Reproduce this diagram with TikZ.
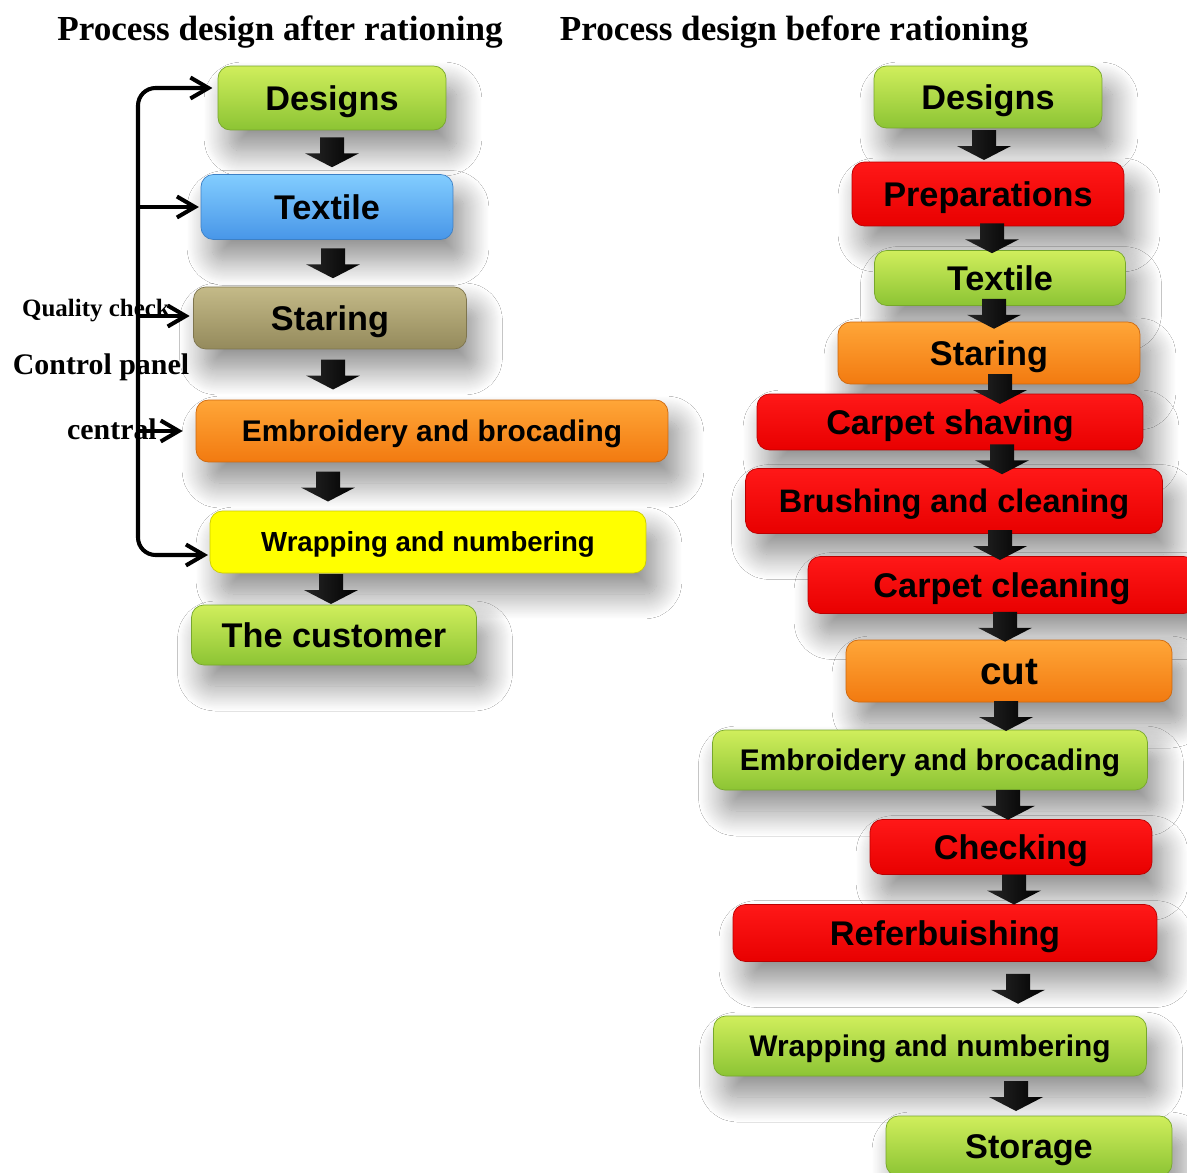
\documentclass[tikz,border=0pt]{standalone}
\usepackage{fontspec}
\setmainfont{Liberation Serif}
\newfontfamily\boxfont{Liberation Sans}
\usetikzlibrary{arrows.meta,calc,shadows.blur}
\definecolor{grntop}{RGB}{208,238,92}
\definecolor{grnbot}{RGB}{140,196,52}
\definecolor{blutop}{RGB}{130,205,255}
\definecolor{blubot}{RGB}{72,150,232}
\definecolor{khktop}{RGB}{196,186,136}
\definecolor{khkbot}{RGB}{148,138,92}
\definecolor{orgtop}{RGB}{255,166,56}
\definecolor{orgbot}{RGB}{242,122,16}
\definecolor{yel}{RGB}{255,255,0}
\definecolor{redtop}{RGB}{255,24,24}
\definecolor{redbot}{RGB}{232,0,0}
\tikzset{
  stage/.style={rounded corners=7pt, minimum height=1.24cm, inner sep=0pt,
                text height=14pt, text depth=0pt,
                font=\boxfont\bfseries\fontsize{19.5}{22}\selectfont, text=black,
                blur shadow={shadow xshift=0.22cm, shadow yshift=-0.42cm,
                             shadow blur radius=0.5cm, shadow blur steps=24,
                             shadow opacity=45}},
  grnbox/.style={stage, top color=grntop, bottom color=grnbot, draw=grnbot!85!black},
  blubox/.style={stage, top color=blutop, bottom color=blubot, draw=blubot!85!black},
  khkbox/.style={stage, top color=khktop, bottom color=khkbot, draw=khkbot!85!black},
  orgbox/.style={stage, top color=orgtop, bottom color=orgbot, draw=orgbot!85!black},
  yelbox/.style={stage, fill=yel, draw=yel!80!black},
  redbox/.style={stage, top color=redtop, bottom color=redbot, draw=redbot!80!black},
  longtxt/.style={font=\boxfont\bfseries\fontsize{17}{20}\selectfont, text height=12.2pt},
  darr/.style={left color=black!85, middle color=gray!75, right color=black},
  ctl/.style={line width=2.3pt, -{Straight Barb[length=3.6mm,width=4.2mm]}},
  lbl/.style={font=\bfseries\fontsize{17}{20}\selectfont},
  ttl/.style={font=\bfseries\fontsize{20}{24}\selectfont},
}
% block arrow in the gap between two boxes
\newcommand{\flow}[4]{% name, x, upper box, lower box
  \coordinate (x#1) at (#2,0);
  \coordinate (m#1) at ($(#3.south)!.5!(#4.north)$);
  \coordinate (#1) at (m#1 -| x#1);
  \shade[darr, shift={(#1)}, x=1cm, y=1cm]
    (-0.24,0.3) -- (0.24,0.3) -- (0.24,-0.02) -- (0.54,-0.02) -- (0,-0.3)
    -- (-0.54,-0.02) -- (-0.24,-0.02) -- cycle;
}

\begin{document}
\begin{tikzpicture}[x=0.02cm, y=-0.02cm]
  \clip (0,0) rectangle (1187,1173);
  \fill[white] (0,0) rectangle (1187,1173);

  % titles
  \node[ttl] (t1) at (280,32) {Process design after rationing};
  \node[ttl] (t2) at (794,32) {Process design before rationing};

  % after rationing
  \node[grnbox, minimum width=4.56cm, minimum height=1.28cm] (dL) at (332,98) {Designs};
  \node[blubox, minimum width=5.04cm, minimum height=1.3cm] (tL) at (327,207) {Textile};
  \node[khkbox, minimum width=5.46cm] (sL) at (330,318) {Staring};
  \node[orgbox, longtxt, minimum width=9.44cm] (eL) at (432,431) {Embroidery and brocading};
  \node[yelbox, font=\boxfont\bfseries\fontsize{15.7}{19}\selectfont, text height=11.2pt,
        minimum width=8.72cm] (wL) at (428,542) {Wrapping and numbering};
  \node[grnbox, minimum width=5.7cm, minimum height=1.2cm] (cL) at (334,635) {The customer};

  \flow{a1}{332}{dL}{tL}
  \flow{a2}{333}{tL}{sL}
  \flow{a3}{333}{sL}{eL}
  \flow{a4}{328}{eL}{wL}
  \flow{a5}{331}{wL}{cL}

  % control panel
  \node[lbl, font=\bfseries\fontsize{14.2}{17}\selectfont] (qc) at (96,311) {Quality check};
  \node[lbl] (cp) at (101,367) {Control panel};
  \node[lbl] (ce) at (112,429) {central};
  \coordinate (bar) at (138,0);
  \coordinate (top) at ([yshift=0.2cm]dL.west);
  \coordinate (bot) at ([yshift=-0.26cm]wL.west);
  \draw[ctl, {Straight Barb[length=3.6mm,width=4.2mm]}-{Straight Barb[length=3.6mm,width=4.2mm]},
        rounded corners=0.35cm, shorten <=3pt, shorten >=1pt]
    (top) -- (top -| bar) -- (bot -| bar) -- (bot);
  \draw[ctl, shorten >=1pt] (tL.west -| bar) -- (tL.west);
  \draw[ctl, shorten >=2pt] ([yshift=0.04cm]sL.west -| bar) -- ([yshift=0.04cm]sL.west);
  \draw[ctl, shorten >=0.26cm] (eL.west -| bar) -- (eL.west);

  % before rationing
  \node[grnbox, minimum width=4.56cm] (dR) at (988,97) {Designs};
  \node[redbox, minimum width=5.44cm, minimum height=1.28cm] (pR) at (988,194) {Preparations};
  \node[grnbox, minimum width=5.02cm, minimum height=1.1cm] (tR) at (1000,278) {Textile};
  \node[orgbox, minimum width=6.04cm] (sR) at (989,353) {Staring};
  \node[redbox, minimum width=7.72cm, minimum height=1.12cm] (csR) at (950,422) {Carpet shaving};
  \node[redbox, font=\boxfont\bfseries\fontsize{18.5}{21}\selectfont, text height=13.2pt,
        minimum width=8.34cm, minimum height=1.3cm] (bcR) at (954,501) {Brushing and cleaning};
  \node[redbox, minimum width=7.76cm, minimum height=1.14cm] (clR) at (1002,585) {Carpet cleaning};
  \node[orgbox, font=\boxfont\bfseries\fontsize{22}{24}\selectfont, text height=15.8pt,
        minimum width=6.52cm] (cuR) at (1009,671) {cut};
  \node[grnbox, longtxt, minimum width=8.7cm, minimum height=1.2cm] (ebR) at (930,760) {Embroidery and brocading};
  \node[redbox, minimum width=5.64cm, minimum height=1.1cm] (ckR) at (1011,847) {Checking};
  \node[redbox, minimum width=8.48cm, minimum height=1.14cm] (rfR) at (945,933) {Referbuishing};
  \node[grnbox, longtxt, minimum width=8.66cm, minimum height=1.2cm] (wrR) at (930,1046) {Wrapping and numbering};
  \node[grnbox, minimum width=5.72cm, minimum height=1.2cm] (stR) at (1029,1146) {Storage};

  \flow{b1}{984}{dR}{pR}
  \flow{b2}{992}{pR}{tR}
  \flow{b3}{994}{tR}{sR}
  \flow{b4}{1000}{sR}{csR}
  \flow{b5}{1002}{csR}{bcR}
  \flow{b6}{1000}{bcR}{clR}
  \flow{b7}{1005}{clR}{cuR}
  \flow{b8}{1006}{cuR}{ebR}
  \flow{b9}{1008}{ebR}{ckR}
  \flow{b10}{1014}{ckR}{rfR}
  \flow{b11}{1018}{rfR}{wrR}
  \flow{b12}{1016}{wrR}{stR}
\end{tikzpicture}
\end{document}
